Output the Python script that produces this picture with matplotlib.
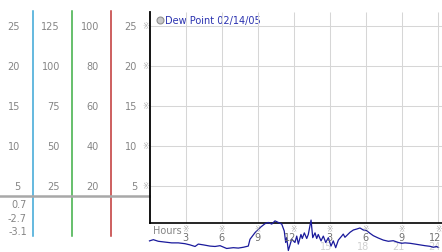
import matplotlib
matplotlib.use('Agg')
import matplotlib.pyplot as plt
from matplotlib.transforms import blended_transform_factory as blend, offset_copy

# ---- data ----
hours = [0.0, 0.32, 0.73, 1.29, 1.85, 2.40, 2.95, 3.37, 3.79, 4.06, 4.48, 5.03, 5.45, 5.87,
         6.42, 6.97, 7.39, 7.80, 8.22, 8.36, 8.78, 9.19, 9.61, 9.88, 10.17, 10.44, 10.72,
         11.0, 11.21, 11.33, 11.41, 11.55, 11.83, 12.1, 12.25, 12.38, 12.6, 12.71, 12.88,
         13.08, 13.21, 13.44, 13.58, 13.77, 13.91, 14.04, 14.27, 14.46, 14.66, 14.88, 15.1,
         15.29, 15.49, 15.71, 15.99, 16.12, 16.26, 16.68, 16.96, 17.24, 17.51, 17.79, 18.07,
         18.34, 18.62, 19.03, 19.45, 19.87, 20.28, 20.7, 20.98, 21.26, 21.67, 22.09, 22.5,
         22.92, 23.34, 23.61, 23.89, 24.0]
dewpoint = [-1.9, -1.75, -1.95, -2.05, -2.15, -2.15, -2.25, -2.4, -2.6, -2.3, -2.4, -2.55,
            -2.6, -2.5, -2.85, -2.75, -2.8, -2.7, -2.55, -1.7, -0.87, -0.25, 0.25, 0.4, 0.2,
            0.6, 0.4, 0.2, -0.66, -2.1, -1.5, -3.1, -1.7, -2.1, -1.3, -2.3, -1.1, -1.6, -0.9,
            -1.6, -1.1, 0.7, -1.5, -0.9, -1.6, -1.1, -1.9, -1.3, -2.1, -1.5, -2.55, -1.9,
            -2.75, -1.8, -1.3, -1.05, -1.45, -0.83, -0.54, -0.42, -0.29, -0.54, -0.62, -0.95,
            -1.25, -1.54, -1.8, -1.95, -1.88, -2.1, -2.2, -2.15, -2.2, -2.3, -2.4, -2.5,
            -2.58, -2.7, -2.6, -2.7]
y_ticks = [5, 10, 15, 20, 25]
scale_factors = [1, 5, 4]          # left-hand scale columns (x1, x5, x4)
x_ticks = [3, 6, 9, 12, 15, 18, 21, 24]
x_tick_labels = ['3', '6', '9', '12', '3', '6', '9', '12']
x_ghost_ticks = [15, 18, 21, 24]
x_ghost_labels = ['15', '18', '21', '24']
stat_labels = ['0.7', '-2.7', '-3.1']
legend_label = 'Dew Point 02/14/05'

# ---- figure ----
W, H = 442, 253
fig = plt.figure(figsize=(W / 100, H / 100), dpi=100)
ov = fig.add_axes([0, 0, 1, 1])
ov.set_xlim(0, W)
ov.set_ylim(H, 0)
ov.axis('off')

x0 = 149.5
ax = fig.add_axes([x0 / W, 0, (W - x0) / W, 240 / H])
xmax = (W - x0) / 12.02
ax.set_xlim(0, xmax)
ax.set_ylim(-3.29, 26.71)
ax.patch.set_alpha(0)
for s in ax.spines.values():
    s.set_visible(False)
ax.set_xticks([])
ax.set_yticks([])

grey_txt = '#858585'
fs = 7
base = 0.3

# grid
ax.hlines(y_ticks, 0, xmax, color='#d6d6d6', lw=0.75, zorder=1)
ax.vlines(x_ticks, base, 26.71, color='#d6d6d6', lw=0.75, zorder=1)

# axes lines
ax.axhline(base, color='black', lw=1.2, zorder=3, clip_on=False)
ax.axvline(0, ymin=(base + 3.29) / 30, ymax=1, color='black', lw=1.3, zorder=3, clip_on=False)

# data
ax.plot(hours, dewpoint, color='#1a1a9c', lw=0.9, zorder=4, clip_on=False)

# x tick labels
bt = blend(ax.transData, ov.transData)
bt_lab = offset_copy(bt, fig=fig, x=3, y=0, units='dots')
for xt, lab in zip(x_ticks, x_tick_labels):
    ax.text(xt, 230, '\u203b', transform=bt, ha='center', va='center', fontsize=5.5,
            color='#a8a8a8', zorder=5)
    ax.text(xt, 238.5, lab, transform=bt_lab, ha='right', va='center', fontsize=fs,
            color='#707070', zorder=5)
for xt, lab in zip(x_ghost_ticks, x_ghost_labels):
    ax.text(xt, 247.5, lab, transform=bt_lab, ha='right', va='center', fontsize=fs,
            color='#d0d0d0', zorder=2)
ov.text(153, 231.5, 'Hours', ha='left', va='center', fontsize=fs, color=grey_txt)

# left-side scales
by = blend(ov.transData, ax.transData)
col_right = [20, 60, 99, 137]
for xr, f in zip(col_right, scale_factors + [1]):
    for yt in y_ticks:
        ax.text(xr, yt, str(yt * f), transform=by, ha='right', va='center',
                fontsize=fs, color=grey_txt)
for yt in y_ticks:
    ax.text(145.7, yt, '\u203b', transform=by, ha='center', va='center',
            fontsize=5.5, color='#a8a8a8')

# coloured scale lines and grey separator
for xl, c in zip([33, 72, 111], ['#3aa6d6', '#3cae44', '#c03434']):
    ov.plot([xl, xl], [11.7, 237], color=c, lw=1.1)
ov.plot([0, 149], [196.8, 196.8], color='#a8a8a8', lw=1.8)

# stats labels
for yy, lab in zip([205, 219, 232], stat_labels):
    ov.text(27, yy, lab, ha='right', va='center', fontsize=fs, color=grey_txt)

# legend
ov.plot([160], [20.5], marker='o', ms=5, mfc='#c8c8c8', mec='#909090', mew=0.8)
ov.text(165, 20.5, legend_label, ha='left', va='center', fontsize=fs, color='#2a32b0')

fig.savefig('out.png', dpi=100)
